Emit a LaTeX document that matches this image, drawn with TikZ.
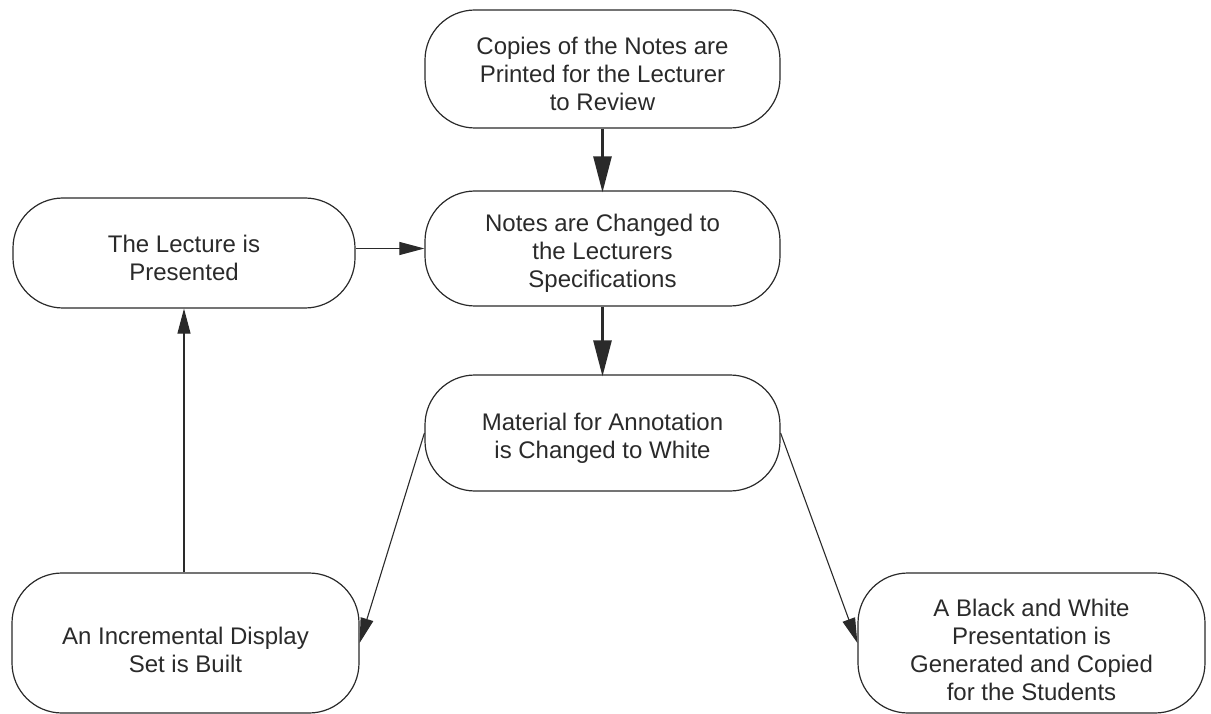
\documentclass[tikz,border=0pt]{standalone}
\usepackage{fontspec}
\setmainfont{Liberation Sans}
\usetikzlibrary{arrows.meta}
\definecolor{ink}{HTML}{2A2A2A}
\begin{document}
\begin{tikzpicture}[x=1pt,y=1pt,
  stepbox/.style={draw=ink, line width=1.2pt, rounded corners=50pt, inner sep=0pt},
  steptext/.style={align=center, text=ink, inner sep=0pt,
    font=\fontsize{24}{28}\selectfont},
  thickflow/.style={draw=ink, line width=2.6pt,
    -{Triangle[length=36pt,width=18pt]}, shorten >=-2pt},
  thinflow/.style={draw=ink, line width=1.1pt,
    -{Triangle[length=25pt,width=13pt]}}]
\useasboundingbox (0,0) rectangle (1211,-714);

% process boxes
\node[stepbox, minimum width=355pt, minimum height=118pt] (copies) at (602.5,-69) {};
\node[stepbox, minimum width=355pt, minimum height=115pt] (changed) at (602.5,-248.5) {};
\node[stepbox, minimum width=342pt, minimum height=110pt] (lecture) at (184,-253) {};
\node[stepbox, minimum width=355pt, minimum height=116pt] (material) at (602.5,-433) {};
\node[stepbox, minimum width=347pt, minimum height=140pt] (display) at (185.5,-643) {};
\node[stepbox, minimum width=347pt, minimum height=140pt] (bw) at (1031.5,-643) {};

% box texts, set slightly below centre
\node[steptext] (copiestext) at ([yshift=-5pt]copies.center)
  {Copies of the Notes are\\Printed for the Lecturer\\to Review};
\node[steptext] (changedtext) at ([yshift=-5pt]changed.center)
  {Notes are Changed to\\the Lecturers\\Specifications};
\node[steptext] (lecturetext) at ([yshift=-5pt]lecture.center)
  {The Lecture is\\Presented};
\node[steptext] (materialtext) at ([yshift=-5pt]material.center)
  {Material for Annotation\\is Changed to White};
\node[steptext] (displaytext) at ([yshift=-7pt]display.center)
  {An Incremental Display\\Set is Built};
\node[steptext] (bwtext) at ([yshift=-7pt]bw.center)
  {A Black and White\\Presentation is\\Generated and Copied\\for the Students};

% flow
\draw[thickflow] (copies.south) -- (changed.north);
\draw[thickflow] (changed.south) -- (material.north);
\draw[thinflow] (changed.west -| lecture.east) -- (changed.west);
\draw[thinflow] (display.north -| lecture.south) -- (lecture.south);
\draw[thinflow] (material.west) -- (display.east);
\draw[thinflow] (material.east) -- (bw.west);
\end{tikzpicture}
\end{document}
